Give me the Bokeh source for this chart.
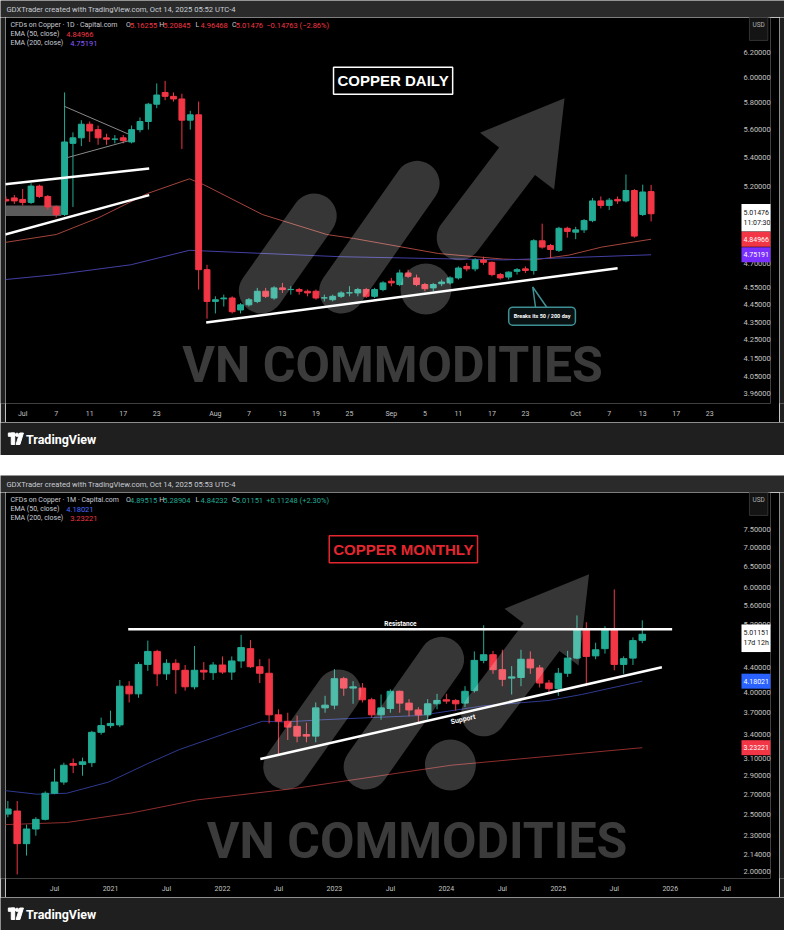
import numpy as np
from bokeh.plotting import figure
from bokeh.models import (Range1d, FixedTicker, PrintfTickFormatter, Label,
                          ColumnDataSource, LinearScale, Spacer)
from bokeh.layouts import column, row
from bokeh.embed import file_html
from bokeh.resources import INLINE

# ============================ DAILY DATA ============================
# trading-day index, 0 = 1 Jul 2025, 75 = 14 Oct 2025
d_bar = list(range(-2, 76))
d_open = [5.11, 5.12, 5.11, 5.09, 5.20, 5.13, 5.06, 5.01, 5.50, 5.54,
          5.64, 5.60, 5.54, 5.53, 5.54, 5.51, 5.60, 5.66, 5.79, 5.88,
          5.85, 5.83, 5.67, 5.71, 4.66, 4.47, 4.485, 4.49, 4.42, 4.45,
          4.47, 4.53, 4.49, 4.55, 4.54, 4.54, 4.53, 4.53, 4.49, 4.48,
          4.50, 4.52, 4.52, 4.54, 4.50, 4.54, 4.59, 4.57, 4.64, 4.61,
          4.57, 4.55, 4.575, 4.58, 4.61, 4.68, 4.665, 4.72, 4.705, 4.63,
          4.615, 4.65, 4.665, 4.655, 4.84, 4.81, 4.78, 4.92, 4.895, 4.91,
          4.97, 5.10, 5.07, 5.11, 5.10, 5.17, 5.01, 5.16255]
d_high = [5.13, 5.14, 5.18, 5.22, 5.21, 5.14, 5.07, 5.88, 5.58, 5.67,
          5.66, 5.63, 5.57, 5.56, 5.56, 5.63, 5.69, 5.80, 5.95, 5.97,
          5.88, 5.87, 5.74, 5.81, 4.69, 4.50, 4.51, 4.50, 4.46, 4.49,
          4.55, 4.55, 4.56, 4.58, 4.56, 4.55, 4.54, 4.54, 4.51, 4.51,
          4.53, 4.56, 4.55, 4.55, 4.55, 4.59, 4.61, 4.66, 4.66, 4.63,
          4.58, 4.58, 4.60, 4.62, 4.68, 4.70, 4.73, 4.74, 4.71, 4.64,
          4.65, 4.67, 4.68, 4.85, 4.95, 4.82, 4.93, 4.93, 4.93, 4.98,
          5.12, 5.13, 5.12, 5.13, 5.28, 5.18, 5.21, 5.20845]
d_low = [5.09, 5.08, 5.07, 5.08, 5.12, 5.04, 4.99, 5.00, 5.06, 5.48,
         5.51, 5.49, 5.49, 5.50, 5.50, 5.50, 5.58, 5.60, 5.76, 5.82,
         5.81, 5.46, 5.60, 4.54, 4.37, 4.40, 4.44, 4.40, 4.40, 4.44,
         4.46, 4.49, 4.48, 4.52, 4.51, 4.51, 4.50, 4.48, 4.47, 4.47,
         4.49, 4.50, 4.50, 4.49, 4.49, 4.53, 4.56, 4.56, 4.61, 4.56,
         4.53, 4.53, 4.56, 4.57, 4.60, 4.65, 4.65, 4.69, 4.62, 4.60,
         4.60, 4.63, 4.64, 4.63, 4.79, 4.73, 4.77, 4.86, 4.85, 4.89,
         4.96, 5.05, 5.04, 5.08, 5.09, 4.86, 5.00, 4.96468]
d_close = [5.10, 5.10, 5.09, 5.20, 5.13, 5.06, 5.01, 5.51, 5.54, 5.64,
           5.59, 5.54, 5.53, 5.531, 5.52, 5.60, 5.66, 5.79, 5.86, 5.85,
           5.83, 5.67, 5.71, 4.66, 4.47, 4.48, 4.49, 4.41, 4.45, 4.48,
           4.53, 4.50, 4.55, 4.54, 4.541, 4.53, 4.52, 4.49, 4.491, 4.50,
           4.52, 4.521, 4.54, 4.50, 4.54, 4.58, 4.58, 4.64, 4.62, 4.57,
           4.545, 4.57, 4.585, 4.61, 4.67, 4.665, 4.72, 4.705, 4.63, 4.61,
           4.645, 4.66, 4.655, 4.84, 4.80, 4.785, 4.92, 4.90, 4.91, 4.97,
           5.10, 5.07, 5.105, 5.10, 5.17, 4.87, 5.16, 5.01476]
d_ema50_x = [-2.05, 4.0, 9.1, 14.9, 19.9, 21.6, 28.6, 36.3, 39.5, 49.6, 57.4, 61.0, 65.2, 69.1, 75.0]
d_ema50_y = [4.83, 4.88, 4.99, 5.15, 5.25, 5.21, 5.01, 4.88, 4.855, 4.76, 4.725, 4.72, 4.75, 4.80, 4.85]
d_ema200_x = [-2.05, 4.0, 12.9, 19.9, 37.9, 57.4, 75.0]
d_ema200_y = [4.60, 4.63, 4.69, 4.78, 4.74, 4.72, 4.752]
d_xticks = [0, 4, 8, 12, 16, 23, 27, 31, 35, 39, 44, 48, 52, 56, 60, 66, 70, 74, 78, 82]
d_xlabels = ["Jul", "7", "11", "17", "23", "Aug", "7", "13", "19", "25",
             "Sep", "5", "11", "17", "23", "Oct", "7", "13", "17", "23"]
d_yticks = [3.96, 4.05, 4.15, 4.25, 4.35, 4.45, 4.55, 4.70, 5.20, 5.40, 5.60, 5.80, 6.00, 6.20]
# drawings (bar index, price)
d_chan_upper = ([-2.1, 15.1], [5.212, 5.321])
d_chan_lower = ([-2.1, 15.1], [4.880, 5.139])
d_support = ([21.9, 71.0], [4.348, 4.669])
d_tri_upper = ([4.97, 12.6], [5.774, 5.568])
d_tri_lower = ([5.32, 12.6], [5.398, 5.518])
d_box = (-3.0, 4.6, 5.00, 5.07)
d_header = "GDXTrader created with TradingView.com, Oct 14, 2025 05:52 UTC-4"
d_symbol = "CFDs on Copper · 1D · Capital.com"
d_ohlc = ["5.16255", "5.20845", "4.96468", "5.01476"]
d_change = "−0.14763 (−2.86%)"
d_ema_vals = [4.84966, 4.75191]
d_countdown = "11:07:30"

# ============================ MONTHLY DATA ============================
# month index, 0 = Jan 2020, 69 = Oct 2025
m_bar = list(range(1, 70))
m_open = [2.50, 2.53, 2.23, 2.36, 2.45, 2.71, 2.83, 3.04, 3.03, 3.05,
          3.43, 3.52, 3.53, 4.10, 3.98, 4.46, 4.69, 4.30, 4.48, 4.36,
          4.09, 4.36, 4.32, 4.45, 4.33, 4.52, 4.74, 4.42, 4.31, 3.67,
          3.58, 3.51, 3.40, 3.38, 3.77, 3.81, 4.22, 4.07, 4.07, 3.89,
          3.67, 3.76, 4.02, 3.84, 3.74, 3.67, 3.83, 3.89, 3.88, 3.84,
          4.03, 4.53, 4.63, 4.37, 4.23, 4.24, 4.55, 4.40, 4.15, 4.06,
          4.31, 4.57, 5.10, 4.61, 4.74, 5.12, 4.46, 4.57, 4.89515]
m_high = [2.63, 2.63, 2.40, 2.47, 2.73, 2.98, 3.05, 3.10, 3.11, 3.45,
          3.63, 3.73, 4.20, 4.18, 4.50, 4.89, 4.72, 4.55, 4.55, 4.45,
          4.79, 4.50, 4.50, 4.60, 4.60, 5.00, 4.90, 4.55, 4.56, 3.75,
          3.70, 3.66, 3.56, 3.85, 3.95, 4.38, 4.25, 4.18, 4.15, 3.92,
          3.97, 4.05, 4.03, 3.90, 3.78, 3.90, 3.98, 3.98, 3.90, 4.10,
          4.69, 5.19, 4.70, 4.72, 4.43, 4.72, 4.69, 4.45, 4.20, 4.40,
          4.70, 5.39, 5.25, 4.85, 5.17, 5.96, 4.60, 4.95, 5.28904]
m_low = [2.47, 1.98, 2.13, 2.30, 2.44, 2.70, 2.80, 2.93, 2.90, 3.00,
         3.40, 3.49, 3.50, 3.85, 3.92, 4.35, 4.10, 4.20, 3.98, 4.03,
         4.05, 4.20, 4.20, 4.30, 4.20, 4.40, 4.40, 4.15, 3.55, 3.15,
         3.33, 3.30, 3.30, 3.30, 3.70, 3.75, 3.95, 3.83, 3.85, 3.63,
         3.60, 3.70, 3.70, 3.65, 3.56, 3.60, 3.75, 3.83, 3.73, 3.78,
         4.00, 4.48, 4.30, 4.10, 3.97, 4.10, 4.30, 4.08, 3.98, 3.95,
         4.25, 4.55, 4.10, 4.55, 4.65, 4.36, 4.30, 4.45, 4.84232]
m_close = [2.55, 2.23, 2.36, 2.45, 2.71, 2.83, 3.02, 3.02, 3.06, 3.43,
           3.52, 3.55, 4.10, 3.98, 4.46, 4.69, 4.30, 4.48, 4.37, 4.09,
           4.36, 4.33, 4.45, 4.33, 4.52, 4.76, 4.42, 4.31, 3.67, 3.58,
           3.50, 3.38, 3.38, 3.77, 3.81, 4.22, 4.07, 4.09, 3.89, 3.67,
           3.77, 4.02, 3.84, 3.74, 3.67, 3.83, 3.88, 3.87, 3.83, 4.02,
           4.53, 4.63, 4.37, 4.21, 4.25, 4.55, 4.40, 4.15, 4.06, 4.31,
           4.57, 5.12, 4.60, 4.72, 5.12, 4.46, 4.56, 4.89, 5.01151]
m_ema50_x = [0.5, 4.1, 7.3, 11.8, 16.0, 19.4, 24.7, 28.3, 30.7, 34.6, 45.1, 52.0, 59.0, 62.5, 69.0]
m_ema50_y = [2.74, 2.70, 2.71, 2.83, 3.04, 3.21, 3.43, 3.58, 3.57, 3.60, 3.66, 3.80, 3.88, 3.97, 4.18]
m_ema200_x = [0.5, 7.3, 14.2, 21.2, 31.7, 48.5, 69.0]
m_ema200_y = [2.40, 2.42, 2.51, 2.64, 2.76, 3.02, 3.232]
m_xticks = [6, 12, 18, 24, 30, 36, 42, 48, 54, 60, 66, 72, 78]
m_xlabels = ["Jul", "2021", "Jul", "2022", "Jul", "2023", "Jul", "2024", "Jul", "2025", "Jul", "2026", "Jul"]
m_yticks = [2.00, 2.14, 2.30, 2.50, 2.70, 2.90, 3.10, 3.40, 3.70, 4.00, 4.40, 5.20, 5.60, 6.00, 6.50, 7.00, 7.50]
m_resistance = ([13.9, 72.2], [5.108, 5.108])
m_support = ([28.06, 71.1], [3.094, 4.412])
m_header = "GDXTrader created with TradingView.com, Oct 14, 2025 05:53 UTC-4"
m_symbol = "CFDs on Copper · 1M · Capital.com"
m_ohlc = ["4.89515", "5.28904", "4.84232", "5.01151"]
m_change = "+0.11248 (+2.30%)"
m_ema_vals = [4.18021, 3.23221]
m_countdown = "17d 12h"

# ============================ STYLE ============================
GREEN, RED = "#22ab94", "#f23645"
HEAD_GRAY, FRAME_GRAY = "#2a2a2a", "#1f1f1f"
TXT = "#c9ccd4"
FONT = "Roboto"
W, MAIN_W, SIDE, HEAD_H, MAIN_H, FOOT_H = 784, 774, 5, 17, 405, 33
RIGHT_PAD = 9
FRAME_W = MAIN_W - RIGHT_PAD
REF_L, REF_T, REF_B = 5, 17, 408
REF_R = REF_L + FRAME_W / 0.98
WM_ALPHA = 0.21
PX = dict(x_range_name="px", y_range_name="px")


def lab(p, x, y, text, size, color, bold=False, align="left", baseline="middle",
        font=FONT, **kw):
    p.add_layout(Label(x=x, y=y, text=text, text_font=font, text_font_size=f"{size}px",
                       text_color=color, text_font_style="bold" if bold else "normal",
                       text_align=align, text_baseline=baseline, **kw))


def strip_fig(w, h, color, xr, yr):
    p = figure(width=w, height=h, x_range=Range1d(*xr), y_range=Range1d(*yr),
               toolbar_location=None, output_backend="svg", x_axis_location=None,
               y_axis_location=None, min_border=0, background_fill_color=color,
               border_fill_color=color, outline_line_color=None)
    p.grid.visible = False
    return p


def header_fig(text):
    p = strip_fig(W, HEAD_H, HEAD_GRAY, (0, 800), (HEAD_H, 0))
    lab(p, 6, 9, text, 7.6, TXT)
    return p


def footer_fig():
    p = strip_fig(W, FOOT_H, FRAME_GRAY, (0, 800), (FOOT_H, 0))
    p.quad(left=[8, 11], right=[14.5, 14.5], top=[10.5, 10.5], bottom=[13.8, 22], color="white")
    p.circle(x=[16.9], y=[12.3], radius=1.7, color="white")
    p.patch([19.6, 23.4, 19.8, 15.9], [10.5, 10.5, 22, 22], color="white")
    lab(p, 26, 16.5, "TradingView", 12.5, "white", bold=True)
    return p


def side_fig():
    return strip_fig(SIDE, MAIN_H, FRAME_GRAY, (0, 1), (0, 1))


def arrow_poly(S, B, hw, hh, L, npts=24):
    S = np.array(S, float)
    B = np.array(B, float)
    u = (B - S) / np.linalg.norm(B - S)
    n = np.array([-u[1], u[0]])
    pts = [S + n * hw, B + n * hw, B + n * hh, B + u * L, B - n * hh, B - n * hw, S - n * hw]
    th = np.arctan2(u[1], u[0])
    for phi in np.linspace(th - np.pi / 2, th - 1.5 * np.pi, npts):
        pts.append(S + hw * np.array([np.cos(phi), np.sin(phi)]))
    pts = np.array(pts)
    return list(pts[:, 0]), list(pts[:, 1])


def watermark(p, dx, dy):
    p.segment(x0=[266 + dx, 348 + dx], y0=[294 + dy, 294 + dy],
              x1=[320 + dx, 425 + dx], y1=[218 + dy, 185 + dy],
              line_color="white", line_alpha=WM_ALPHA, line_width=45, line_cap="round", **PX)
    p.circle(x=[434 + dx], y=[292 + dy], radius=26, fill_color="white",
             fill_alpha=WM_ALPHA, line_color=None, **PX)
    ax, ay = arrow_poly((468 + dx, 240 + dy), (527 + dx, 162.5 + dy), 23, 47.5, 80)
    p.patch(ax, ay, fill_color="white", fill_alpha=WM_ALPHA, line_color=None, **PX)
    lab(p, 400 + dx, 369 + dy, "VN COMMODITIES", 50, "white", bold=True, align="center",
        baseline="middle", text_alpha=0.23, **PX)


def add_candles(p, x, o, h, l, c):
    col = [GREEN if ci >= oi else RED for oi, ci in zip(o, c)]
    src = ColumnDataSource(dict(x=x, h=h, l=l, col=col,
                                top=[max(a, b) for a, b in zip(o, c)],
                                bot=[min(a, b) for a, b in zip(o, c)]))
    p.segment(x0="x", y0="h", x1="x", y1="l", source=src, line_color="col", line_width=1)
    p.vbar(x="x", width=0.7, top="top", bottom="bot", source=src,
           fill_color="col", line_color="col", line_width=1)


def main_fig(xr, yr, yticks, xticks, xlabels):
    p = figure(width=MAIN_W, height=MAIN_H, x_range=Range1d(*xr), y_range=Range1d(*yr),
               y_axis_type="log", y_axis_location="right", toolbar_location=None,
               output_backend="svg", min_border_left=0, min_border_top=0,
               min_border_right=RIGHT_PAD, min_border_bottom=19, background_fill_color="black",
               border_fill_color="black", outline_line_color=None)
    p.extra_x_ranges = {"px": Range1d(REF_L, REF_R)}
    p.extra_y_ranges = {"px": Range1d(REF_B, REF_T)}
    p.extra_x_scales = {"px": LinearScale()}
    p.extra_y_scales = {"px": LinearScale()}
    p.grid.visible = False
    ya = p.yaxis[0]
    ya.ticker = FixedTicker(ticks=yticks)
    ya.formatter = PrintfTickFormatter(format="%.5f")
    xa = p.xaxis[0]
    xa.ticker = FixedTicker(ticks=xticks)
    xa.major_label_overrides = {t: s for t, s in zip(xticks, xlabels)}
    for a in (xa, ya):
        a.axis_line_color = None
        a.major_tick_line_color = None
        a.minor_tick_line_color = None
        a.major_tick_out = 0
        a.major_tick_in = 0
        a.minor_tick_out = 0
        a.minor_tick_in = 0
        a.major_label_text_font = FONT
        a.major_label_text_color = "#c3c3c3"
    xa.major_label_text_font_size = "7px"
    ya.major_label_text_font_size = "7.5px"
    # price labels sit in the price-scale strip at the right of the chart pane
    ya.major_label_standoff = -27
    xa.major_label_standoff = 6
    return p


def legend(p, symbol, ohlc, change, vcolor, ema_vals, ema_colors):
    y1, y2, y3 = 25, 34, 43
    fs, fv = 7, 7.5
    lab(p, 10, y1, symbol, fs, TXT, **PX)
    xs = [(128, 132), (162, 166), (199, 204), (236, 240)]
    for (xl, xv), letter, v in zip(xs, "OHLC", ohlc):
        lab(p, xl, y1, letter, fs, TXT, **PX)
        lab(p, xv, y1, v, fv, vcolor, **PX)
    lab(p, 271, y1, change, fv, vcolor, **PX)
    lab(p, 10, y2, "EMA (50, close)", fs, TXT, **PX)
    lab(p, 67, y2, f"{ema_vals[0]:.5f}", fv, ema_colors[0], **PX)
    lab(p, 10, y3, "EMA (200, close)", fs, TXT, **PX)
    lab(p, 71, y3, f"{ema_vals[1]:.5f}", fv, ema_colors[1], **PX)
    p.add_layout(Label(x=773.5, y=25, text="USD", text_font=FONT, text_font_size="6.5px",
                       text_color="#b0b0b0", text_align="center", text_baseline="middle",
                       background_fill_color="#141414", border_line_color="#333333",
                       padding=(3, 11), **PX))


def tags(p, close, countdown, ema_vals, ema_fills):
    p.add_layout(Label(x=756, y=close, x_range_name="px", text=f"{close:.5f}\n{countdown}",
                       text_font=FONT, text_font_size="7px", text_color="#111111",
                       text_align="left", text_baseline="middle", y_offset=-4,
                       background_fill_color="white", padding=(2, 5)))
    for v, f in zip(ema_vals, ema_fills):
        p.add_layout(Label(x=756, y=v, x_range_name="px", text=f"{v:.5f}", text_font=FONT,
                           text_font_size="7px", text_color="white", text_align="left",
                           text_baseline="middle", background_fill_color=f, padding=(2, 5)))


# ============================ DAILY PANEL ============================
p1 = main_fig((-2.05, -2.05 + (REF_R - REF_L) / 8.55), (3.9096, 6.4876),
              d_yticks, d_xticks, d_xlabels)
p1.quad(left=[d_box[0]], right=[d_box[1]], bottom=[d_box[2]], top=[d_box[3]],
        fill_color="#6b6b6b", fill_alpha=0.85, line_color=None)
p1.line(d_ema50_x, d_ema50_y, line_color="#a3453c", line_width=1)
p1.line(d_ema200_x, d_ema200_y, line_color="#433fa3", line_width=1)
add_candles(p1, d_bar, d_open, d_high, d_low, d_close)
watermark(p1, 0, 0)
for xs, ys in (d_tri_upper, d_tri_lower):
    p1.line(xs, ys, line_color="#8a8a8a", line_width=1)
for xs, ys in (d_chan_upper, d_chan_lower, d_support):
    p1.line(xs, ys, line_color="white", line_width=2.5)
# callout
p1.line([546, 543, 558], [311.5, 290, 311.5], line_color="#3d8f94", line_width=1.5, **PX)
p1.add_layout(Label(x=552.5, y=319.5, text="Breaks its 50 / 200 day", text_font=FONT,
                    text_font_size="5.5px", text_font_style="bold", text_color="white",
                    text_align="center", text_baseline="middle",
                    background_fill_color="#0a1112", border_line_color="#3d8f94",
                    border_line_width=1.5, padding=(5, 6), border_radius=4, **PX))
p1.add_layout(Label(x=400.5, y=81, text="COPPER DAILY", text_font="Liberation Sans",
                    text_font_size="15px", text_font_style="bold", text_color="white",
                    text_align="center", text_baseline="middle",
                    border_line_color="white", border_line_width=1.5, padding=(4, 5), **PX))
legend(p1, d_symbol, d_ohlc, d_change, RED, d_ema_vals, [RED, "#8c5cff"])
tags(p1, d_close[-1], d_countdown, d_ema_vals, [RED, "#7b2fff"])

# ============================ MONTHLY PANEL ============================
p2 = main_fig((0.746, (REF_R + 2.1) / 9.52), (1.949, 8.67), m_yticks, m_xticks, m_xlabels)
p2.line(m_ema50_x, m_ema50_y, line_color="#2e3a8f", line_width=1)
p2.line(m_ema200_x, m_ema200_y, line_color="#8f2d2d", line_width=1)
add_candles(p2, m_bar, m_open, m_high, m_low, m_close)
watermark(p2, 25, 1)
for xs, ys in (m_resistance, m_support):
    p2.line(xs, ys, line_color="white", line_width=2.5)
lab(p2, 408, 150, "Resistance", 6.5, "white", bold=True, align="center", **PX)
lab(p2, 472, 247, "Support", 7, "white", bold=True, align="center", angle=0.223, **PX)
p2.add_layout(Label(x=411, y=74.5, text="COPPER MONTHLY", text_font="Liberation Sans",
                    text_font_size="15px", text_font_style="bold", text_color="#e3262f",
                    text_align="center", text_baseline="middle",
                    border_line_color="#e3262f", border_line_width=1.5, padding=(4, 5), **PX))
legend(p2, m_symbol, m_ohlc, m_change, GREEN, m_ema_vals, ["#4a6cff", RED])
tags(p2, m_close[-1], m_countdown, m_ema_vals, ["#2962ff", RED])

layout = column(
    header_fig(d_header), row(side_fig(), p1, side_fig()), footer_fig(),
    Spacer(width=W, height=20),
    header_fig(m_header), row(side_fig(), p2, side_fig()), footer_fig(),
)

open("out.html", "w").write(file_html(layout, INLINE))
